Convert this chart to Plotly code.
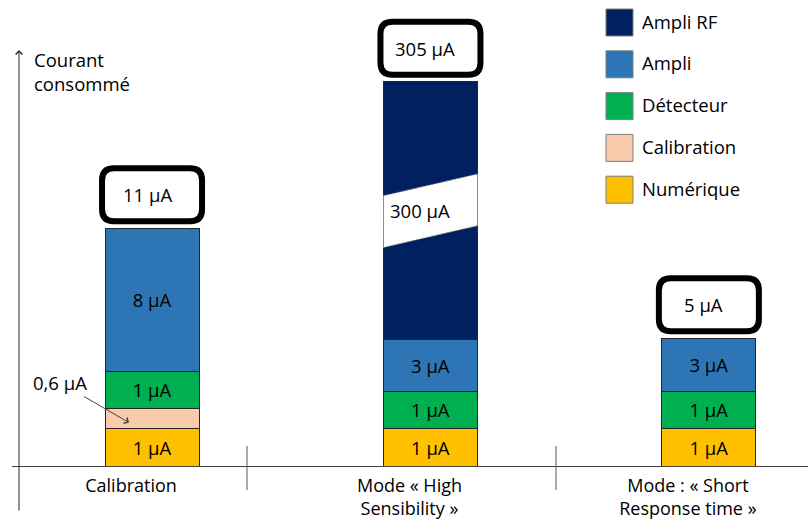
import plotly.graph_objects as go

# ---------------- data ----------------
categories = ["Calibration", "Mode « High<br>Sensibility »", "Mode : « Short<br>Response time »"]
series_names = ["Numérique", "Calibration", "Détecteur", "Ampli", "Ampli RF"]
series_colors = ["#FFC000", "#F8CBAD", "#00B050", "#2E75B6", "#002060"]

# currents in µA (as labelled in the picture)
current_numerique = [1, 1, 1]
current_calibration = [0.6, None, None]
current_detecteur = [1, 1, 1]
current_ampli = [8, 3, 3]
current_ampli_rf = [None, 300, None]
totals = ["11 µA", "305 µA", "5 µA"]

# the picture is a schematic (not to scale): drawn segment heights read off it,
# in units of the height of a "1 µA" block
drawn_numerique = [1.0, 1.0, 1.0]
drawn_calibration = [0.53, None, None]
drawn_detecteur = [1.0, 1.0, 1.0]
drawn_ampli = [3.81, 1.37, 1.41]
drawn_ampli_rf = [None, 6.88, None]

currents = [current_numerique, current_calibration, current_detecteur, current_ampli, current_ampli_rf]
drawn = [drawn_numerique, drawn_calibration, drawn_detecteur, drawn_ampli, drawn_ampli_rf]
show_inside = [True, False, True, True, False]

FONT = "Open Sans"
FS = 18.5
W, H = 808, 522
ML, MR, MT, MB = 12, 0, 0, 56
PW, PH = W - ML - MR, H - MT - MB
BAR_W = 0.3375
Y_MAX = 12.43


def fmt(v):
    if v is None:
        return ""
    s = ("%g" % v).replace(".", ",")
    return s + " µA"


def px_x(p):
    return (p - ML) / PW


def px_y(p):
    return (MT + PH - p) / PH


xs = list(range(len(categories)))
fig = go.Figure()
for name, color, cur, hgt, lab in zip(series_names, series_colors, currents, drawn, show_inside):
    fig.add_trace(go.Bar(
        x=xs, y=hgt, name=name, width=BAR_W,
        marker=dict(color=color, line=dict(color="#262626", width=1)),
        text=[fmt(c) if lab else "" for c in cur],
        textposition="inside", insidetextanchor="middle", textangle=0,
        textfont=dict(family=FONT, size=FS, color="black"),
        showlegend=False, hoverinfo="skip",
    ))

stack_tops = []
for i in xs:
    stack_tops.append(sum((d[i] or 0) for d in drawn))

shapes = []
annotations = []

# total boxes (rounded, thick black border) above each bar
BOX_W, BOX_H, GAP, LW, R = 106, 59, 4, 6, 12
for i, t in enumerate(totals):
    x0, x1 = -BOX_W / 2 + LW / 2, BOX_W / 2 - LW / 2
    y0, y1 = GAP + LW / 2, GAP + BOX_H - LW / 2
    path = (f"M {x0+R},{y0} L {x1-R},{y0} Q {x1},{y0} {x1},{y0+R} "
            f"L {x1},{y1-R} Q {x1},{y1} {x1-R},{y1} L {x0+R},{y1} "
            f"Q {x0},{y1} {x0},{y1-R} L {x0},{y0+R} Q {x0},{y0} {x0+R},{y0} Z")
    shapes.append(dict(type="path", xref="x", yref="y", xsizemode="pixel", ysizemode="pixel",
                       xanchor=i, yanchor=stack_tops[i], path=path,
                       fillcolor="white", line=dict(color="black", width=LW), layer="above"))
    annotations.append(dict(x=i, y=stack_tops[i], xref="x", yref="y", text=t, showarrow=False,
                            yshift=GAP + BOX_H / 2, xshift=-5, yanchor="middle",
                            font=dict(family=FONT, size=FS, color="black")))

# axis break in the Ampli RF segment
rf_i = 1
rf_bottom = sum((d[rf_i] or 0) for d in drawn[:4])
rf_h = drawn_ampli_rf[rf_i]
c = rf_bottom + rf_h / 2
half, slant = 0.69, 0.29
bx0, bx1 = rf_i - BAR_W / 2, rf_i + BAR_W / 2
shapes.append(dict(type="path", xref="x", yref="y",
                   path=f"M {bx0},{c-slant-half} L {bx0},{c-slant+half} L {bx1},{c+slant+half} L {bx1},{c+slant-half} Z",
                   fillcolor="white", line=dict(color="#8c8c8c", width=1, dash="3px,2px"), layer="above"))
annotations.append(dict(x=rf_i, y=c, xref="x", yref="y", text=fmt(current_ampli_rf[rf_i]), showarrow=False,
                        xshift=-10, yanchor="middle", font=dict(family=FONT, size=FS, color="black")))

# 0,6 µA callout
cal_mid = drawn_numerique[0] + drawn_calibration[0] / 2
annotations.append(dict(x=0, y=cal_mid, xref="x", yref="y", text=fmt(current_calibration[0]),
                        showarrow=True, arrowhead=4, arrowsize=1.3, arrowwidth=1, arrowcolor="#404040",
                        ax=-69, ay=-40, xshift=-23, yshift=-4,
                        font=dict(family=FONT, size=FS, color="black")))

# y axis arrow and title
annotations.append(dict(x=px_x(19), y=px_y(50), xref="paper", yref="paper", text="",
                        showarrow=True, arrowhead=4, arrowsize=1.3, arrowwidth=1, arrowcolor="#262626",
                        axref="pixel", ayref="pixel", ax=0, ay=462))
annotations.append(dict(x=px_x(32), y=px_y(45), xref="paper", yref="paper", xanchor="left", yanchor="top",
                        align="left", text="Courant<br>consommé", showarrow=False,
                        font=dict(family=FONT, size=FS, color="black")))

# category dividers
for xp in (247, 556):
    shapes.append(dict(type="line", xref="paper", yref="paper", x0=px_x(xp), x1=px_x(xp),
                       y0=px_y(446), y1=px_y(490), line=dict(color="#595959", width=1)))

# legend (large swatches, top to bottom)
for k, (name, color) in enumerate(zip(series_names[::-1], series_colors[::-1])):
    yc = 22.5 + k * 41.8
    shapes.append(dict(type="rect", xref="paper", yref="paper",
                       x0=px_x(606), x1=px_x(633), y0=px_y(yc + 13.5), y1=px_y(yc - 13.5),
                       fillcolor=color, line=dict(color="#7f7f7f", width=1)))
    annotations.append(dict(x=px_x(640), y=px_y(yc - 1.5), xref="paper", yref="paper",
                            xanchor="left", yanchor="middle",
                            text=name, showarrow=False, font=dict(family=FONT, size=FS, color="black")))

fig.update_layout(
    barmode="stack", width=W, height=H, autosize=False,
    margin=dict(l=ML, r=MR, t=MT, b=MB),
    paper_bgcolor="white", plot_bgcolor="white",
    font=dict(family=FONT, size=FS, color="black"),
    shapes=shapes, annotations=annotations, showlegend=False,
    xaxis=dict(range=[-0.503, 2.356], tickvals=xs, ticktext=categories, showgrid=False, zeroline=False,
               showline=True, linecolor="#404040", linewidth=1, ticks="", automargin=False,
               ticklabelshift=-21, ticklabelstandoff=3,
               tickfont=dict(family=FONT, size=18, color="black"), fixedrange=True),
    yaxis=dict(range=[0, Y_MAX], visible=False, fixedrange=True),
)

fig.write_html("out.html", config={"displayModeBar": False},
               post_script="document.body.style.margin='0';")
